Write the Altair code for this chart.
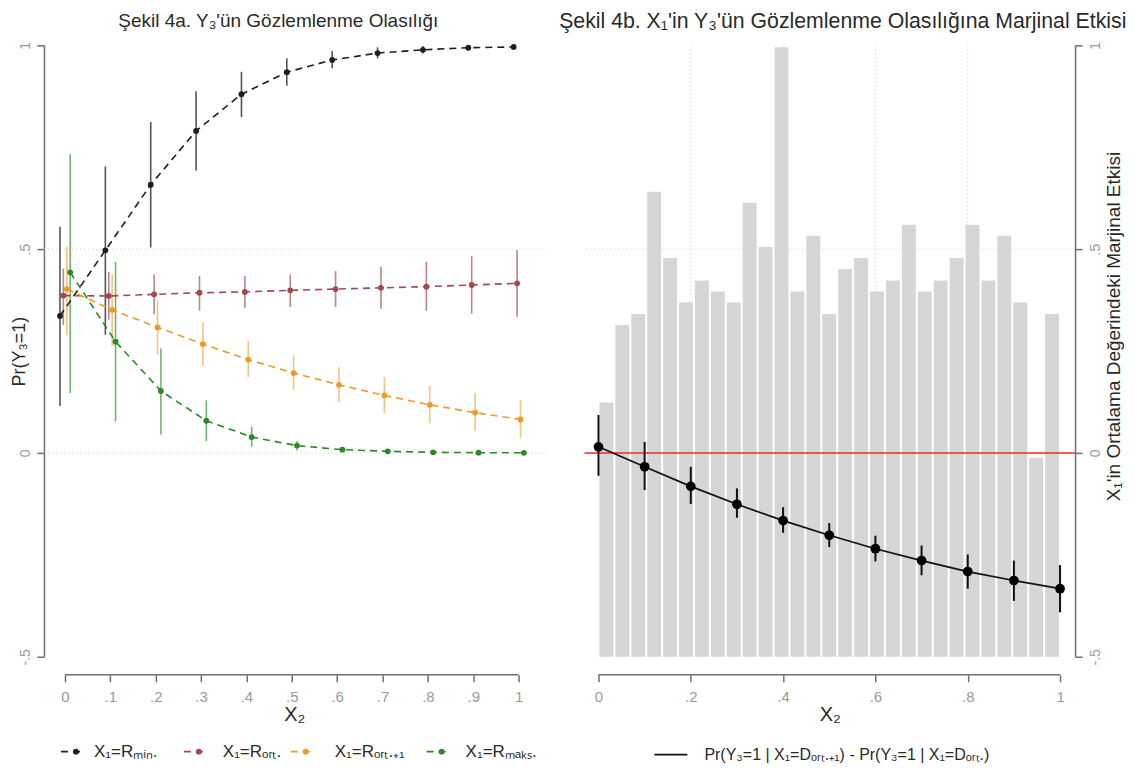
import altair as alt
import pandas as pd

FONT = "Liberation Sans"

# ---------------- data ----------------
x_levels = [0.0, 0.1, 0.2, 0.3, 0.4, 0.5, 0.6, 0.7, 0.8, 0.9, 1.0]
x_levels_b = [0.0, 0.2, 0.4, 0.6, 0.8, 1.0]

series_keys = ["min", "ort", "ort1", "maks"]
series_labels = ["X₁=Rₘᵢₙ.", "X₁=Rₒᵣₜ.", "X₁=Rₒᵣₜ.₊₁", "X₁=Rₘₐₖₛ."]
series_shift = [-0.011, -0.0035, 0.004, 0.0115]

rmin_y = [0.336, 0.497, 0.658, 0.790, 0.880, 0.934, 0.964, 0.981, 0.989, 0.994, 0.996]
rmin_lo = [0.115, 0.290, 0.504, 0.693, 0.824, 0.901, 0.944, 0.968, 0.980, 0.988, 0.992]
rmin_hi = [0.555, 0.703, 0.812, 0.887, 0.935, 0.968, 0.986, 0.995, 0.998, 0.999, 0.999]

rort_y = [0.386, 0.385, 0.389, 0.393, 0.395, 0.399, 0.402, 0.405, 0.408, 0.412, 0.416]
rort_lo = [0.314, 0.327, 0.340, 0.349, 0.356, 0.358, 0.358, 0.354, 0.349, 0.342, 0.334]
rort_hi = [0.452, 0.444, 0.438, 0.434, 0.434, 0.438, 0.446, 0.457, 0.469, 0.483, 0.498]

rort1_y = [0.402, 0.351, 0.308, 0.267, 0.229, 0.196, 0.167, 0.141, 0.118, 0.099, 0.082]
rort1_lo = [0.289, 0.262, 0.240, 0.214, 0.186, 0.155, 0.125, 0.098, 0.073, 0.054, 0.037]
rort1_hi = [0.506, 0.438, 0.375, 0.320, 0.275, 0.239, 0.210, 0.186, 0.165, 0.147, 0.129]

rmaks_y = [0.443, 0.273, 0.152, 0.079, 0.039, 0.018, 0.008, 0.004, 0.0015, 0.0007, 0.0003]
rmaks_lo = [0.147, 0.077, 0.045, 0.029, 0.015, 0.006, 0.002, 0.001, 0.0, 0.0, 0.0]
rmaks_hi = [0.733, 0.469, 0.257, 0.129, 0.064, 0.029, 0.014, 0.007, 0.003, 0.0015, 0.001]

me_y = [0.015, -0.034, -0.082, -0.126, -0.166, -0.202, -0.235, -0.264, -0.291, -0.313, -0.333]
me_lo = [-0.056, -0.091, -0.125, -0.159, -0.196, -0.231, -0.266, -0.300, -0.333, -0.363, -0.391]
me_hi = [0.093, 0.027, -0.034, -0.087, -0.133, -0.172, -0.203, -0.227, -0.249, -0.264, -0.275]

hist_top = [0.124, 0.314, 0.341, 0.641, 0.478, 0.369, 0.423, 0.396, 0.369, 0.614,
            0.505, 0.995, 0.396, 0.533, 0.341, 0.451, 0.478, 0.396, 0.423, 0.560,
            0.396, 0.423, 0.478, 0.560, 0.423, 0.533, 0.369, -0.012, 0.341]
hist_base = -0.5

me_label = "Pr(Y₃=1 | X₁=Dₒᵣₜ.₊₁) - Pr(Y₃=1 | X₁=Dₒᵣₜ.)"

# ---------------- styles / layout ----------------
line_colors = ["#1e1e1e", "#a3464f", "#ec9b2b", "#2a8a2a"]
ci_colors = ["#555555", "#b9868c", "#f2c47f", "#72b572"]
AX = "#6f6f6f"
LAB = "#9a9a9a"
TXT = "#2a2a2a"
W1, W2, H = 501, 491, 612
AXIS_OFF = 18
leg_sym_x = [17, 140, 247, 383]
leg_txt_x = [50, 179, 291, 422]
leg_y = 707

ys = alt.Scale(domain=[-0.5, 1], nice=False, zero=False)
xs1 = alt.Scale(domain=[-0.0463, 1.057], nice=False, zero=False)
xs2 = alt.Scale(domain=[-0.0303, 1.0325], nice=False, zero=False)

y_lab = "datum.value == 1 ? '1' : datum.value == 0.5 ? '.5' : datum.value == 0 ? '0' : '-.5'"
x_lab = "datum.value == 0 ? '0' : datum.value == 1 ? '1' : '.' + round(datum.value * 10)"


def x_axis(values):
    return alt.Axis(values=values, labelExpr=x_lab, domain=False, ticks=True, tickSize=7,
                    tickColor=AX, tickWidth=1.5, offset=AXIS_OFF, labelColor=LAB,
                    labelFontSize=15, labelPadding=8, title="X₂", titleFontSize=20,
                    titleColor=TXT, titleFontWeight="normal", titlePadding=0, grid=False)


def y_axis(orient, title, tx, ty, size, lpad):
    return alt.Axis(orient=orient, values=[-0.5, 0, 0.5, 1], labelExpr=y_lab, domain=True,
                    domainColor=AX, domainWidth=1.5, ticks=True, tickSize=7, tickColor=AX,
                    tickWidth=1.5, labelAngle=270, labelAlign="center",
                    labelBaseline="bottom" if orient == "left" else "top",
                    labelColor=LAB, labelFontSize=14, labelPadding=lpad, title=title,
                    titleAngle=270, titleBaseline="middle", titleAlign="center",
                    titleX=tx, titleY=ty,
                    titleFontSize=size, titleColor=TXT, titleFontWeight="normal",
                    grid=False)


XA1 = x_axis(x_levels)
XA2 = x_axis(x_levels_b)
YA1 = y_axis("left", "Pr(Y₃=1)", -24, 306, 18, 4)
YA2 = y_axis("right", "X₁'in Ortalama Değerindeki Marjinal Etkisi", 38, 281, 19, 6)

# ---------------- left panel ----------------
prob = pd.DataFrame([
    {"series": k, "x": x + sh, "y": y, "lo": lo, "hi": hi}
    for k, sh, yy, ll, hh in zip(series_keys, series_shift,
                                 [rmin_y, rort_y, rort1_y, rmaks_y],
                                 [rmin_lo, rort_lo, rort1_lo, rmaks_lo],
                                 [rmin_hi, rort_hi, rort1_hi, rmaks_hi])
    for x, y, lo, hi in zip(x_levels, yy, ll, hh)
])
cscale = alt.Scale(domain=series_keys, range=line_colors)
sscale = alt.Scale(domain=series_keys, range=ci_colors)

grid1 = alt.Chart(pd.DataFrame({"g": [0, 0.5]})).mark_rule(
    color="#cccccc", strokeDash=[1, 3], strokeWidth=1).encode(
    y=alt.Y("g:Q", scale=ys, axis=YA1))

xline1 = alt.Chart(pd.DataFrame({"a": [0.0], "b": [1.0]})).mark_rule(
    color=AX, strokeWidth=1.5).encode(
    x=alt.X("a:Q", scale=xs1, axis=XA1), x2="b:Q", y=alt.value(H + AXIS_OFF))

ci1 = alt.Chart(prob).mark_rule(strokeWidth=1.6).encode(
    x=alt.X("x:Q", scale=xs1, axis=XA1),
    y=alt.Y("lo:Q", scale=ys, axis=YA1), y2="hi:Q",
    stroke=alt.Stroke("series:N", scale=sscale, legend=None))

lines1 = alt.Chart(prob).mark_line(strokeDash=[7, 5], strokeWidth=1.6).encode(
    x=alt.X("x:Q", scale=xs1, axis=XA1),
    y=alt.Y("y:Q", scale=ys, axis=YA1),
    color=alt.Color("series:N", scale=cscale, legend=None))

pts1 = alt.Chart(prob).mark_circle(size=34, opacity=1).encode(
    x=alt.X("x:Q", scale=xs1, axis=XA1),
    y=alt.Y("y:Q", scale=ys, axis=YA1),
    color=alt.Color("series:N", scale=cscale, legend=None))

leg1 = pd.DataFrame({"series": series_keys, "label": series_labels,
                     "sx": leg_sym_x, "sx2": [v + 23 for v in leg_sym_x],
                     "px": [v + 15 for v in leg_sym_x], "tx": leg_txt_x,
                     "ly": [leg_y] * 4})
leg1_line = alt.Chart(leg1).mark_rule(strokeDash=[7, 5], strokeWidth=1.6).encode(
    x=alt.X("sx:Q", scale=None, axis=None), x2="sx2:Q",
    y=alt.Y("ly:Q", scale=None, axis=None),
    color=alt.Color("series:N", scale=cscale, legend=None))
leg1_pt = alt.Chart(leg1).mark_circle(size=34, opacity=1).encode(
    x=alt.X("px:Q", scale=None, axis=None),
    y=alt.Y("ly:Q", scale=None, axis=None),
    color=alt.Color("series:N", scale=cscale, legend=None))
leg1_txt = alt.Chart(leg1).mark_text(align="left", baseline="middle", fontSize=17,
                                     color=TXT, font=FONT).encode(
    x=alt.X("tx:Q", scale=None, axis=None),
    y=alt.Y("ly:Q", scale=None, axis=None),
    text="label:N")

left = alt.layer(grid1, xline1, ci1, lines1, pts1, leg1_line, leg1_pt, leg1_txt).properties(
    width=W1, height=H,
    title=alt.TitleParams("Şekil 4a. Y₃'ün Gözlemlenme Olasılığı", anchor="middle",
                          frame="group", dx=-16, offset=10, fontSize=19,
                          fontWeight="normal", color=TXT, font=FONT))

# ---------------- right panel ----------------
me = pd.DataFrame({"x": x_levels, "y": me_y, "lo": me_lo, "hi": me_hi})
nb = len(hist_top)
hist = pd.DataFrame({"b0": [i / nb for i in range(nb)],
                     "b1": [(i + 1) / nb for i in range(nb)],
                     "base": [hist_base] * nb, "top": hist_top})

vgrid = alt.Chart(pd.DataFrame({"g": [0.2, 0.4, 0.6, 0.8]})).mark_rule(
    color="#cccccc", strokeDash=[1, 3], strokeWidth=1).encode(
    x=alt.X("g:Q", scale=xs2, axis=XA2))
hgrid = alt.Chart(pd.DataFrame({"g": [0.5]})).mark_rule(
    color="#cccccc", strokeDash=[1, 3], strokeWidth=1).encode(
    y=alt.Y("g:Q", scale=ys, axis=YA2))
bars = alt.Chart(hist).mark_rect(color="#d6d6d6", xOffset=1, x2Offset=-1).encode(
    x=alt.X("b0:Q", scale=xs2, axis=XA2), x2="b1:Q",
    y=alt.Y("base:Q", scale=ys, axis=YA2), y2="top:Q")
zero = alt.Chart(pd.DataFrame({"z": [0.0]})).mark_rule(
    color="#f02a20", strokeWidth=1.5).encode(y=alt.Y("z:Q", scale=ys, axis=YA2))
xline2 = alt.Chart(pd.DataFrame({"a": [0.0], "b": [1.0]})).mark_rule(
    color=AX, strokeWidth=1.5).encode(
    x=alt.X("a:Q", scale=xs2, axis=XA2), x2="b:Q", y=alt.value(H + AXIS_OFF))
ci2 = alt.Chart(me).mark_rule(strokeWidth=2, color="#111111").encode(
    x=alt.X("x:Q", scale=xs2, axis=XA2),
    y=alt.Y("lo:Q", scale=ys, axis=YA2), y2="hi:Q")
line2 = alt.Chart(me).mark_line(strokeWidth=1.7, color="#111111").encode(
    x=alt.X("x:Q", scale=xs2, axis=XA2),
    y=alt.Y("y:Q", scale=ys, axis=YA2))
pts2 = alt.Chart(me).mark_circle(size=95, opacity=1, color="#000000").encode(
    x=alt.X("x:Q", scale=xs2, axis=XA2),
    y=alt.Y("y:Q", scale=ys, axis=YA2))

leg2 = pd.DataFrame({"label": [me_label], "sx": [70], "sx2": [103], "tx": [120],
                     "ly": [leg_y + 3]})
leg2_line = alt.Chart(leg2).mark_rule(strokeWidth=1.7, color="#111111").encode(
    x=alt.X("sx:Q", scale=None, axis=None), x2="sx2:Q",
    y=alt.Y("ly:Q", scale=None, axis=None))
leg2_txt = alt.Chart(leg2).mark_text(align="left", baseline="middle", fontSize=16,
                                     color=TXT, font=FONT).encode(
    x=alt.X("tx:Q", scale=None, axis=None),
    y=alt.Y("ly:Q", scale=None, axis=None),
    text="label:N")

right = alt.layer(vgrid, hgrid, bars, zero, xline2, ci2, line2, pts2,
                  leg2_line, leg2_txt).properties(
    width=W2, height=H,
    title=alt.TitleParams("Şekil 4b. X₁'in Y₃'ün Gözlemlenme Olasılığına Marjinal Etkisi",
                          anchor="middle", frame="group", dx=13, offset=9, fontSize=21.3,
                          fontWeight="normal", color=TXT, font=FONT))

chart = alt.hconcat(left, right, spacing=40, bounds="flush").configure_view(
    strokeWidth=0).configure_axis(labelFont=FONT, titleFont=FONT).properties(
    padding={"left": 3, "top": 2, "right": 0, "bottom": 2})

chart.save("out.html", embed_options={"renderer": "svg", "actions": False})
